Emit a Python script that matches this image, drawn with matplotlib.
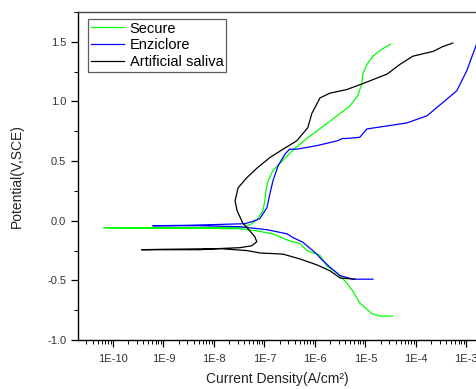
import numpy as np
import matplotlib
matplotlib.use('Agg')
import matplotlib.pyplot as plt
from matplotlib.ticker import FixedLocator, FuncFormatter, MultipleLocator, LogLocator, NullFormatter

plt.rcParams['font.family'] = ['Liberation Sans', 'DejaVu Sans']

# log10 of current density (A/cm2) and potential (V vs SCE)
secure_logi = [-4.46, -4.71, -4.87, -5.11, -5.25, -5.37, -5.56, -5.76, -5.90, -6.16, -6.30,
               -6.50, -6.83, -7.15, -7.49, -8.28, -9.66, -10.18,
               -9.74, -8.28, -7.39, -7.25, -7.13, -7.03, -6.99, -6.97, -6.93, -6.83, -6.65,
               -6.44, -6.16, -5.84, -5.50, -5.31, -5.15, -5.07, -5.05, -4.97, -4.85, -4.67, -4.50]
secure_e = [-0.80, -0.80, -0.78, -0.69, -0.59, -0.52, -0.44, -0.38, -0.29, -0.25, -0.19,
            -0.17, -0.11, -0.085, -0.067, -0.063, -0.063, -0.058,
            -0.058, -0.058, -0.054, -0.025, 0.017, 0.084, 0.167, 0.25, 0.33, 0.42, 0.50,
            0.59, 0.69, 0.79, 0.90, 0.96, 1.05, 1.15, 1.23, 1.31, 1.38, 1.44, 1.48]

enziclore_logi = [-4.85, -5.25, -5.50, -5.70, -5.90, -5.96, -6.10, -6.24, -6.44, -6.55, -6.95,
                  -7.49, -8.28, -9.21,
                  -8.48, -7.39, -7.25, -7.09, -6.95, -6.89, -6.83, -6.73, -6.59, -6.50, -6.36,
                  -5.96, -5.56, -5.45, -5.37, -5.11, -4.97, -4.65, -4.18, -3.78, -3.47, -3.19,
                  -2.99, -2.87, -2.79, -2.76]
enziclore_e = [-0.49, -0.49, -0.46, -0.39, -0.31, -0.28, -0.23, -0.18, -0.14, -0.11, -0.075,
               -0.05, -0.042, -0.042,
               -0.038, -0.025, -0.008, 0.017, 0.109, 0.226, 0.335, 0.46, 0.56, 0.60, 0.60,
               0.63, 0.67, 0.69, 0.69, 0.70, 0.77, 0.79, 0.82, 0.88, 0.99, 1.09,
               1.26, 1.40, 1.49, 1.51]

saliva_logi = [-5.21, -5.50, -5.70, -5.96, -6.30, -6.63, -7.09, -7.35, -7.88, -8.28, -9.43,
               -9.07, -7.94, -7.49, -7.25, -7.15, -7.19, -7.29, -7.43, -7.54, -7.58, -7.52,
               -7.35, -7.15, -6.89, -6.63, -6.36, -6.24, -6.14, -6.06, -5.96, -5.90, -5.70,
               -5.37, -5.05, -4.57, -4.32, -4.06, -3.66, -3.47, -3.27]
saliva_e = [-0.49, -0.48, -0.42, -0.37, -0.32, -0.28, -0.27, -0.25, -0.234, -0.243, -0.243,
            -0.24, -0.234, -0.226, -0.21, -0.176, -0.134, -0.084, -0.017, 0.084, 0.167, 0.276,
            0.36, 0.44, 0.53, 0.60, 0.67, 0.73, 0.78, 0.90, 0.98, 1.03, 1.07,
            1.10, 1.15, 1.23, 1.31, 1.38, 1.42, 1.46, 1.49]

x_ticks = [1e-10, 1e-9, 1e-8, 1e-7, 1e-6, 1e-5, 1e-4, 1e-3]

fig = plt.figure(figsize=(4.77, 3.89), dpi=100)
ax = fig.add_axes([0.1635, 0.126, 0.8365, 0.843])

ax.plot(10 ** np.array(secure_logi), secure_e, color='#00ff00', lw=0.9, label='Secure')
ax.plot(10 ** np.array(enziclore_logi), enziclore_e, color='#0000ff', lw=0.9, label='Enziclore')
ax.plot(10 ** np.array(saliva_logi), saliva_e, color='black', lw=0.9, label='Artificial saliva')

ax.set_xscale('log')
ax.set_xlim(10 ** -10.69, 10 ** -2.79)
ax.set_ylim(-1.0, 1.75)

ax.xaxis.set_major_locator(FixedLocator(x_ticks))
ax.xaxis.set_major_formatter(FuncFormatter(lambda v, p: '1E%d' % round(np.log10(v))))
ax.xaxis.set_minor_locator(LogLocator(base=10, subs=np.arange(2, 10), numticks=30))
ax.xaxis.set_minor_formatter(NullFormatter())
ax.yaxis.set_major_locator(MultipleLocator(0.5))
ax.yaxis.set_minor_locator(MultipleLocator(0.25))
ax.yaxis.set_major_formatter(FuncFormatter(lambda v, p: '%.1f' % v))

ax.tick_params(which='major', direction='out', length=5, width=0.9, labelsize=8,
               labelcolor='#333333', top=False, right=False)
ax.tick_params(which='minor', direction='out', length=3, width=0.7, top=False, right=False)
ax.tick_params(axis='x', pad=5)

ax.spines['right'].set_visible(False)
ax.spines['top'].set_color('#444444')
for s in ['left', 'bottom', 'top']:
    ax.spines[s].set_linewidth(1.0)

ax.set_xlabel('Current Density(A/cm²)', fontsize=10, color='#222222', labelpad=6)
ax.set_ylabel('Potential(V,SCE)', fontsize=10, color='#222222', labelpad=17)

leg = ax.legend(loc='upper left', bbox_to_anchor=(0.025, 0.98), fontsize=10.5, frameon=True,
                fancybox=False, edgecolor='#333333', handlelength=2.3, handletextpad=0.35,
                borderpad=0.2, labelspacing=0.2, borderaxespad=0.0)
leg.get_frame().set_linewidth(0.9)

fig.savefig('out.png', dpi=100)
